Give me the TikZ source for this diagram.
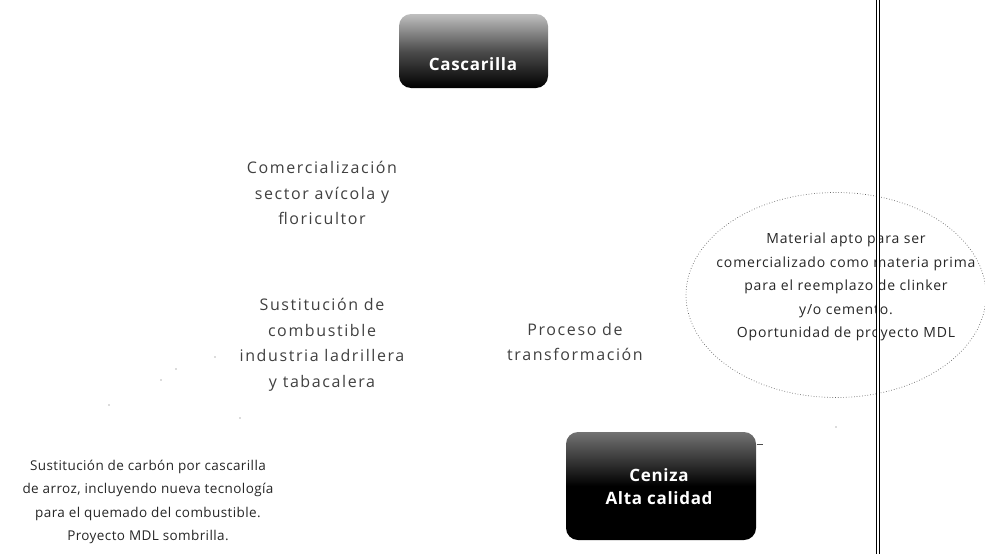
\documentclass[tikz,border=0pt]{standalone}
\usepackage{fontspec}
\setmainfont{Open Sans}
\usetikzlibrary{shapes.geometric}
\begin{document}
\begin{tikzpicture}[x=1pt,y=-1pt,
  upper/.style={align=center, text=black!75, font=\fontsize{16}{25.5}\selectfont\addfontfeature{LetterSpace=10}},
  lower/.style={align=center, text=black!85, font=\fontsize{13.5}{23.5}\selectfont\addfontfeature{LetterSpace=3}},
  darkbox/.style={rounded corners=12pt},
  boxtext/.style={align=center, text=white, font=\bfseries\fontsize{17}{23}\selectfont\addfontfeature{LetterSpace=4}},
  speck/.style={fill=black!60, inner sep=0pt, minimum size=1.3pt, circle}]
\useasboundingbox (0,0) rectangle (985,554);
% top box
\shade[darkbox, top color=black!25, bottom color=black, middle color=black!70] (399,14) rectangle (548,88);
\node[boxtext] (top) at (473,64) {Cascarilla};
% bottom box
\shade[darkbox, top color=black!55, bottom color=black, middle color=black] (566,432) rectangle (756,540);
\node[boxtext] (ceniza) at (659,487) {Ceniza\\Alta calidad};
% texts
\node[upper] (com) at (322,193) {Comercialización\\sector avícola y\\floricultor};
\node[upper] (sus) at (322,345) {Sustitución de\\combustible\\industria ladrillera\\y tabacalera};
\node[upper] (proc) at (575,342) {Proceso de\\transformación};
\node[lower] (carb) at (148,502) {Sustitución de carbón por cascarilla\\de arroz, incluyendo nueva tecnología\\para el quemado del combustible.\\Proyecto MDL sombrilla.};
% ellipse
\node[ellipse, draw=black!60, dotted, line width=0.7pt, minimum width=300pt, minimum height=205pt] (ell) at (836,295) {};
\node[font=\fontsize{14}{23.5}\selectfont\addfontfeature{LetterSpace=6}, align=center, text=black!85] (mat) at (846,287) {Material apto para ser\\comercializado como materia prima\\para el reemplazo de clinker\\y/o cemento.\\Oportunidad de proyecto MDL};
% vertical double line
\draw[double, double distance=2pt, line width=0.7pt] (878,0) -- (878,554);
% stray specks
\foreach \p in {(215,357),(176,369),(161,380),(109,405),(240,418),(836,427)}
  \node[speck] at \p {};
\draw[black!70, line width=1pt] (757,444) -- (763,444);
\end{tikzpicture}
\end{document}
